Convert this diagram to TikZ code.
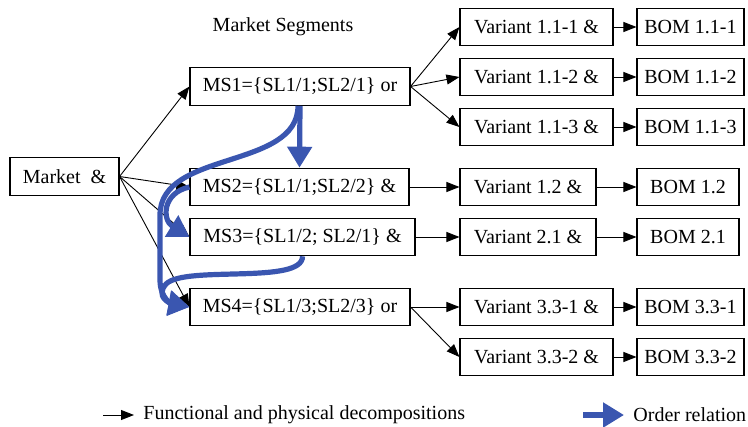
\documentclass[tikz,border=0pt]{standalone}
\usepackage{fontspec}
\setmainfont{Liberation Serif}
\usetikzlibrary{arrows.meta}
\definecolor{ordblue}{RGB}{58,86,176}
\begin{document}
\begin{tikzpicture}[x=0.5pt,y=-0.5pt, font=\fontsize{10}{12}\selectfont,
  box/.style={draw, line width=0.55pt, inner sep=0pt, minimum height=18.75pt},
  dec/.style={-{Triangle[length=6.5pt,width=5pt]}, line width=0.45pt},
  ord/.style={draw=ordblue, line width=2.6pt, -{Triangle[length=10.5pt,width=12pt]}, ordblue},
  lbl/.style={inner sep=0pt}]
\useasboundingbox (0,0) rectangle (748,427);

\node[lbl] (title) at (283,27) {Market Segments};

\node[box, minimum width=54.5pt] (mk) at (64.5,176.5) {Market\ \ \&};

\node[box, minimum width=110pt]   (ms1) at (300,86.5) {MS1=\{SL1/1;SL2/1\} or};
\node[box, minimum width=109.5pt] (ms2) at (299.5,187) {MS2=\{SL1/1;SL2/2\} \&};
\node[box, minimum width=112.5pt] (ms3) at (302.5,237) {MS3=\{SL1/2; SL2/1\} \&};
\node[box, minimum width=110pt]   (ms4) at (300,307) {MS4=\{SL1/3;SL2/3\} or};

\node[box, minimum width=76.5pt] (v111) at (536.5,27)  {Variant 1.1-1 \&};
\node[box, minimum width=76.5pt] (v112) at (536.5,77)  {Variant 1.1-2 \&};
\node[box, minimum width=76.5pt] (v113) at (536.5,127) {Variant 1.1-3 \&};
\node[box, minimum width=68pt]   (v12)  at (528,187)   {Variant 1.2 \&};
\node[box, minimum width=68pt]   (v21)  at (528,237)   {Variant 2.1 \&};
\node[box, minimum width=76.5pt] (v331) at (536.5,307) {Variant 3.3-1 \&};
\node[box, minimum width=76.5pt] (v332) at (536.5,357) {Variant 3.3-2 \&};

\node[box, minimum width=53.5pt] (b111) at (690.5,27)  {BOM 1.1-1};
\node[box, minimum width=53.5pt] (b112) at (690.5,77)  {BOM 1.1-2};
\node[box, minimum width=53.5pt] (b113) at (690.5,127) {BOM 1.1-3};
\node[box, minimum width=51pt]   (b12)  at (688,187)   {BOM 1.2};
\node[box, minimum width=51pt]   (b21)  at (688,237)   {BOM 2.1};
\node[box, minimum width=53.5pt] (b331) at (690.5,307) {BOM 3.3-1};
\node[box, minimum width=53.5pt] (b332) at (690.5,357) {BOM 3.3-2};

% decompositions
\foreach \m in {ms1,ms2,ms3,ms4} \draw[dec] (mk.east) -- (\m.west);
\foreach \v in {v111,v112,v113} \draw[dec] (ms1.east) -- (\v.west);
\draw[dec] (ms2.east) -- (v12.west);
\draw[dec] (ms3.east) -- (v21.west);
\draw[dec] (ms4.east) -- (v331.west);
\draw[dec] (ms4.east) -- (v332.west);
\draw[dec] (v111) -- (b111);
\draw[dec] (v112) -- (b112);
\draw[dec] (v113) -- (b113);
\draw[dec] (v12) -- (b12);
\draw[dec] (v21) -- (b21);
\draw[dec] (v331) -- (b331);
\draw[dec] (v332) -- (b332);

% order relations
\draw[ord] (ms1.south) -- (ms2.north);
\draw[ord] ([xshift=-1pt]ms1.south) .. controls (298,170) and (160,150) .. (160,215)
  -- (160,280) .. controls (160,298) and (172,304) .. (ms4.west);
\draw[ord] (ms2.west) .. controls (162,193) and (162,220) .. (ms3.west);
\draw[ord] (ms3.south) .. controls (303,285) and (185,265) .. (166,284)
  .. controls (155,297) and (170,303) .. (ms4.west);

% legend
\coordinate (l1a) at (103,415);
\coordinate (l1b) at (134,415);
\draw[dec] (l1a) -- (l1b);
\node[lbl, anchor=west] (l1t) at (143,415) {Functional and physical decompositions};
\coordinate (l2a) at (583,415);
\coordinate (l2b) at (624,415);
\draw[ord] (l2a) -- (l2b);
\node[lbl, anchor=west] (l2t) at (633,415) {Order relation};
\end{tikzpicture}
\end{document}
